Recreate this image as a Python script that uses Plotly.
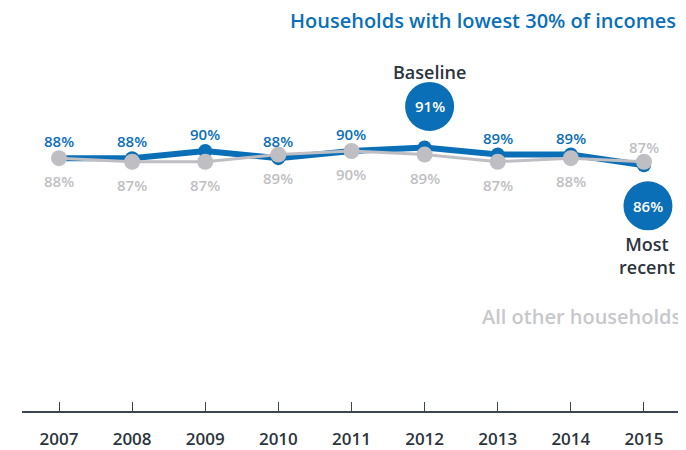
import plotly.graph_objects as go

years = [2007, 2008, 2009, 2010, 2011, 2012, 2013, 2014, 2015]
lowest_30 = [88, 88, 90, 88, 90, 91, 89, 89, 86]
all_other = [88, 87, 87, 89, 90, 89, 87, 88, 87]

BLUE = '#0b6fb8'
GREY = '#bfbfc3'
DARK = '#2c353d'
FONT = 'Open Sans'

baseline_i = years.index(2012)
recent_i = years.index(2015)

fig = go.Figure()
fig.add_trace(go.Scatter(
    x=years, y=lowest_30, mode='lines+markers',
    line=dict(color=BLUE, width=6), marker=dict(color=BLUE, size=14),
    hoverinfo='skip'))
fig.add_trace(go.Scatter(
    x=years, y=all_other, mode='lines+markers',
    line=dict(color=GREY, width=3), marker=dict(color=GREY, size=16),
    hoverinfo='skip'))

# value labels
for i, (yr, v) in enumerate(zip(years, lowest_30)):
    if i in (baseline_i, recent_i):
        continue
    fig.add_annotation(x=yr, y=v, text='%d%%' % v, showarrow=False, yshift=17,
                       font=dict(family=FONT, size=15, color=BLUE, weight=600))
for i, (yr, v) in enumerate(zip(years, all_other)):
    shift = 15 if i == recent_i else -23
    fig.add_annotation(x=yr, y=v, text='%d%%' % v, showarrow=False, yshift=shift,
                       font=dict(family=FONT, size=15, color=GREY, weight=600))

# callout bubbles
for i, dx, dy in [(baseline_i, 5, 41), (recent_i, 4, -40.5)]:
    fig.add_shape(type='circle', xref='x', yref='y',
                  xsizemode='pixel', ysizemode='pixel',
                  xanchor=years[i], yanchor=lowest_30[i],
                  x0=dx - 24.5, x1=dx + 24.5, y0=dy - 24.5, y1=dy + 24.5,
                  fillcolor=BLUE, line=dict(width=0))
    fig.add_annotation(x=years[i], y=lowest_30[i], xshift=dx, yshift=dy,
                       text='%d%%' % lowest_30[i], showarrow=False,
                       font=dict(family=FONT, size=15, color='white', weight=600))

fig.add_annotation(x=years[baseline_i], y=lowest_30[baseline_i],
                   xshift=5, yshift=75, text='Baseline', showarrow=False,
                   font=dict(family=FONT, size=18, color=DARK, weight=600))
fig.add_annotation(x=years[recent_i], y=lowest_30[recent_i],
                   xshift=3, yshift=-90, text='Most<br>recent', showarrow=False,
                   font=dict(family=FONT, size=18, color=DARK, weight=600))

fig.add_annotation(x=1, y=1.0, xref='paper', yref='paper',
                   xanchor='right', yanchor='middle', borderpad=0,
                   text='Households with lowest 30% of incomes', showarrow=False,
                   xshift=-9,
                   font=dict(family=FONT, size=20, color=BLUE, weight=600))
fig.add_annotation(x=1, y=0.2417, xref='paper', yref='paper',
                   xanchor='right', yanchor='middle',
                   text='All other households', showarrow=False, xshift=-3,
                   font=dict(family=FONT, size=20, color='#c8c8cb', weight=600))

fig.update_layout(
    width=678, height=442,
    margin=dict(l=14, r=0, t=12, b=37),
    plot_bgcolor='white', paper_bgcolor='white',
    showlegend=False,
    xaxis=dict(range=[2006.494, 2015.575], tickvals=years, showgrid=False,
               zeroline=False, showline=True, linecolor='#3b4650', linewidth=2,
               ticks='inside', ticklen=9, tickcolor='#3b4650', tickwidth=1,
               ticklabelstandoff=12,
               tickfont=dict(family=FONT, size=17, color=DARK, weight=600)),
    yaxis=dict(range=[17.4, 126.57], visible=False),
)

fig.write_html("out.html")
